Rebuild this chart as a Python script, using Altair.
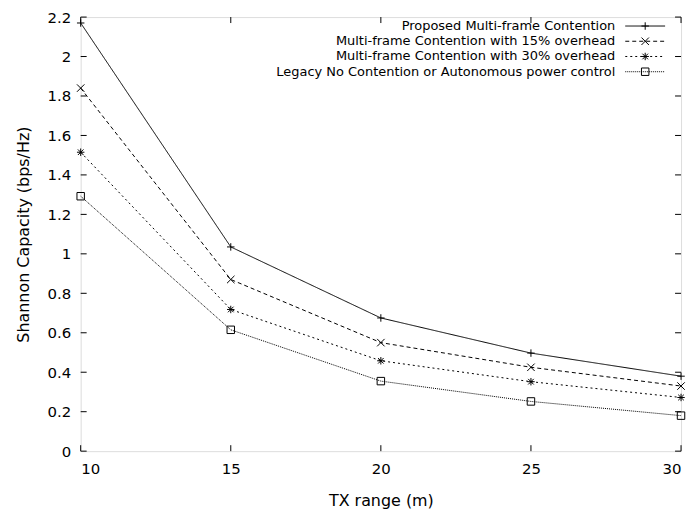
import altair as alt
import pandas as pd

tx_range = [10, 15, 20, 25, 30]
series_names = [
    "Proposed Multi-frame Contention",
    "Multi-frame Contention with 15% overhead",
    "Multi-frame Contention with 30% overhead",
    "Legacy No Contention or Autonomous power control",
]
proposed = [2.17, 1.035, 0.675, 0.497, 0.38]
overhead15 = [1.84, 0.87, 0.55, 0.425, 0.33]
overhead30 = [1.515, 0.718, 0.458, 0.352, 0.272]
legacy = [1.292, 0.615, 0.355, 0.252, 0.18]
y_ticks = [0, 0.2, 0.4, 0.6, 0.8, 1.0, 1.2, 1.4, 1.6, 1.8, 2.0, 2.2]
x_ticks = [10, 15, 20, 25, 30]

all_values = [proposed, overhead15, overhead30, legacy]
rows = []
for name, vals in zip(series_names, all_values):
    for x, y in zip(tx_range, vals):
        rows.append({"series": name, "x": x, "y": y})
df = pd.DataFrame(rows)

W, H = 603, 436
FONT = "DejaVu Sans"
LBL = 15
TTL = 16
LEG = 13

shape_range = [
    "M-1,0L1,0M0,-1L0,1",
    "M-1,-1L1,1M-1,1L1,-1",
    "M-1,0L1,0M0,-1L0,1M-0.75,-0.75L0.75,0.75M-0.75,0.75L0.75,-0.75",
    "M-1,-1L1,-1L1,1L-1,1Z",
]
dash_range = [[1, 0], [4, 3], [2, 3], [1, 1]]
shape_scale = alt.Scale(domain=series_names, range=shape_range)
dash_scale = alt.Scale(domain=series_names, range=dash_range)

xs = alt.Scale(domain=[10, 30], nice=False, zero=False)
ys = alt.Scale(domain=[0, 2.2], nice=False)

x_axis = alt.Axis(values=x_ticks, format="~g", ticks=False, domain=False, grid=False,
                  labelOverlap=False, labelPadding=10, titlePadding=17,
                  labelFontSize=LBL, titleFontSize=TTL,
                  labelFont=FONT, titleFont=FONT, titleFontWeight="normal",
                  labelColor="black", titleColor="black")
y_axis = alt.Axis(values=y_ticks, format="~g", ticks=False, domain=False, grid=False,
                  labelOverlap=False, labelPadding=10, titlePadding=16,
                  labelFontSize=LBL, titleFontSize=TTL,
                  labelFont=FONT, titleFont=FONT, titleFontWeight="normal",
                  labelColor="black", titleColor="black")
X_TITLE = "TX range (m)"
Y_TITLE = "Shannon Capacity (bps/Hz)"


def X(field):
    return alt.X(field, scale=xs, axis=x_axis, title=X_TITLE)


def Y(field):
    return alt.Y(field, scale=ys, axis=y_axis, title=Y_TITLE)


base = alt.Chart(df)
lines = base.mark_line(color="black", strokeWidth=1).encode(
    x=X("x:Q"), y=Y("y:Q"),
    strokeDash=alt.StrokeDash("series:N", scale=dash_scale, legend=None),
    detail="series:N",
)
points = base.mark_point(filled=False, color="black", strokeWidth=1, size=56, opacity=1).encode(
    x=X("x:Q"), y=Y("y:Q"),
    shape=alt.Shape("series:N", scale=shape_scale, legend=None),
)

ydf = pd.DataFrame({"x": [10] * len(y_ticks), "y": y_ticks})
xdf = pd.DataFrame({"x": x_ticks, "y": [0] * len(x_ticks)})
TL = 6
yt_left = alt.Chart(ydf).mark_rule(color="black").encode(
    y=Y("y:Q"), x=alt.value(0), x2=alt.value(TL))
yt_right = alt.Chart(ydf).mark_rule(color="black").encode(
    y=Y("y:Q"), x=alt.value(W - TL), x2=alt.value(W))
xt_bottom = alt.Chart(xdf).mark_rule(color="black").encode(
    x=X("x:Q"), y=alt.value(H), y2=alt.value(H - TL))
xt_top = alt.Chart(xdf).mark_rule(color="black").encode(
    x=X("x:Q"), y=alt.value(0), y2=alt.value(TL))

# custom gnuplot-style legend (text right-aligned, sample to the right)
legend_layers = []
leg_text_x = 537
leg_line_x1, leg_line_x2 = 547, 587
leg_y0, leg_dy = 9, 15.3
one = pd.DataFrame({"series": series_names})
for i, name in enumerate(series_names):
    yy = leg_y0 + i * leg_dy
    sub = alt.Chart(one).transform_filter(alt.datum.series == name)
    legend_layers.append(
        sub.mark_text(align="right", baseline="middle", font=FONT, fontSize=LEG, color="black").encode(
            x=alt.value(leg_text_x), y=alt.value(yy), text="series:N"))
    legend_layers.append(
        sub.mark_rule(color="black", strokeWidth=1).encode(
            x=alt.value(leg_line_x1), x2=alt.value(leg_line_x2), y=alt.value(yy),
            strokeDash=alt.StrokeDash("series:N", scale=dash_scale, legend=None)))
    legend_layers.append(
        sub.mark_point(filled=False, color="black", strokeWidth=1, size=56, opacity=1).encode(
            x=alt.value((leg_line_x1 + leg_line_x2) / 2), y=alt.value(yy),
            shape=alt.Shape("series:N", scale=shape_scale, legend=None)))

chart = alt.layer(lines, points, yt_left, yt_right, xt_bottom, xt_top, *legend_layers).properties(
    width=W, height=H,
    autosize=alt.AutoSizeParams(type="none"),
    padding={"left": 73, "top": 8, "right": 8, "bottom": 58},
).configure_view(stroke="black", strokeWidth=1).configure_axis(
    labelOverlap=False
).configure(background="white")

chart.save("out.html", embed_options={"renderer": "svg", "actions": False})
